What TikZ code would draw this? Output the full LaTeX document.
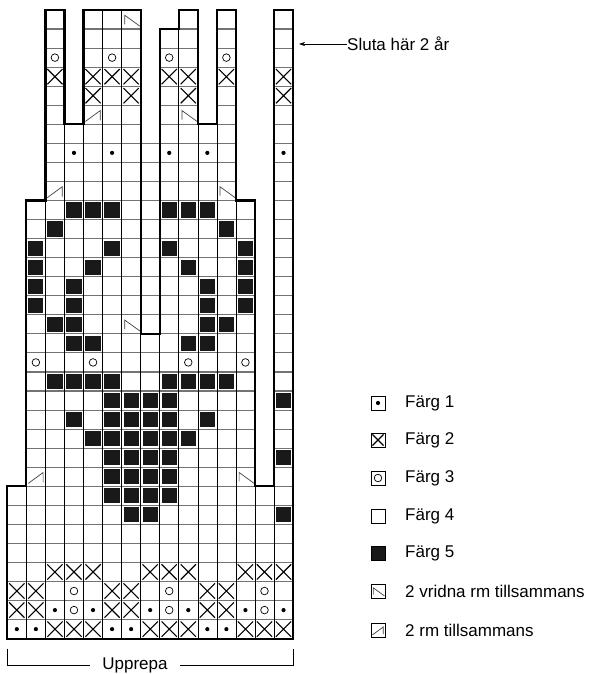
\documentclass[tikz,border=0pt]{standalone}
\usepackage{fontspec}
\setmainfont{Liberation Sans}
\usetikzlibrary{arrows.meta}

\tikzset{
hline/.style={draw=black!55,line width=1.1pt},
vline/.style={draw=black,line width=.6pt},
outline/.style={draw=black,line width=2.2pt,line join=miter},
keybox/.style={draw=black,line width=.8pt},
lbl/.style={font=\fontsize{17}{20}\selectfont,anchor=west,inner sep=0pt}
}

% one symbol in the unit cell whose top left corner is (#1,#2)
\newcommand{\stDot}[2]{\fill (#1+.5,#2+.5) circle (2.1pt);}
\newcommand{\stRing}[2]{\draw[line width=.7pt] (#1+.5,#2+.5) circle (3.8pt);}
\newcommand{\stCross}[2]{\draw[line width=1.1pt] (#1+.1,#2+.1) -- (#1+.9,#2+.9) (#1+.9,#2+.1) -- (#1+.1,#2+.9);}
\newcommand{\stBlack}[2]{\fill[black!90] (#1+.1,#2+.1) rectangle (#1+.9,#2+.9);}
\newcommand{\stTwist}[2]{\draw[line width=.7pt,black!75] (#1+.17,#2+.75) -- (#1+.17,#2+.28) -- (#1+.96,#2+.85);}
\newcommand{\stTog}[2]{\draw[line width=.7pt,black!75] (#1+.88,#2+.8) -- (#1+.88,#2+.28) -- (#1+.1,#2+.85);}

% column / first row of the chart
\def\chartcols{0/25,1/10,2/0,3/6,4/0,5/0,6/0,7/17,8/1,9/0,10/6,11/0,12/10,13/25,14/0}

\begin{document}
\begin{tikzpicture}[x=1pt,y=-1pt]
\useasboundingbox (0,0) rectangle (598,674);

\begin{scope}[shift={(7.3,10)},x=19.05pt,y=-19.05pt]
% grid
\foreach \c/\a in \chartcols
  \foreach \r in {\a,...,32}
    \draw[hline] (\c,\r) -- ++(1,0) (\c,\r+1) -- ++(1,0);
\foreach \r in {7,...,16}
  \draw[hline] (7,\r) -- ++(1,0);
\foreach \c/\a in \chartcols
  \foreach \r in {\a,...,32}
    \draw[vline] (\c,\r) -- ++(0,1) (\c+1,\r) -- ++(0,1);

% colour 5
\foreach \r/\cl in {10/{3,4,5,8,9,10},11/{2,11},12/{1,5,8,12},13/{1,4,9,12},
  14/{1,3,10,12},15/{1,3,10,12},16/{2,3,10,11},17/{3,4,9,10},
  19/{2,3,4,5,8,9,10,11},20/{5,6,7,8,14},21/{3,5,6,7,8,10},22/{4,5,6,7,8,9},
  23/{5,6,7,8,14},24/{5,6,7,8},25/{5,6,7,8},26/{6,7,14}}
  \foreach \c in \cl \stBlack{\c}{\r};

% colour 2
\foreach \r/\cl in {3/{2,4,5,6,8,9,11,14},4/{4,6,9,14},29/{2,3,4,7,8,9,12,13,14},
  30/{0,1,5,6,10,11},31/{0,1,5,6,10,11},32/{2,3,4,7,8,9,12,13,14}}
  \foreach \c in \cl \stCross{\c}{\r};

% colour 1
\foreach \r/\cl in {7/{3,5,8,10,14},31/{2,4,7,9,12,14},32/{0,1,5,6,10,11}}
  \foreach \c in \cl \stDot{\c}{\r};

% colour 3
\foreach \r/\cl in {2/{2,5,8,11},18/{1,4,9,12},30/{3,8,13},31/{3,8,13}}
  \foreach \c in \cl \stRing{\c}{\r};

% decreases
\foreach \c/\r in {6/0,9/5,11/9,6/16,12/24} \stTwist{\c}{\r};
\foreach \c/\r in {4/5,2/9,1/24} \stTog{\c}{\r};

% outline
\draw[outline] (0,33) -- (0,25) -- (1,25) -- (1,10) -- (2,10) -- (2,0) -- (3,0)
  -- (3,6) -- (4,6) -- (4,0) -- (7,0) -- (7,17) -- (8,17) -- (8,1) -- (9,1)
  -- (9,0) -- (10,0) -- (10,6) -- (11,6) -- (11,0) -- (12,0) -- (12,10)
  -- (13,10) -- (13,25) -- (14,25) -- (14,0) -- (15,0) -- (15,33) -- cycle;
\end{scope}

% stop mark
\node[lbl] (stop) at (347,44) {Sluta här 2 år};
\coordinate (stopPt) at (299,44);
\draw[line width=.6pt,-{Stealth[length=6pt,width=4pt]}] (stop.west) -- (stopPt);

% repeat
\coordinate (brL) at (7.3,649);
\coordinate (brR) at (293,649);
\node[font=\fontsize{17}{20}\selectfont,inner xsep=12pt,inner ysep=0pt] (upp) at (135,665) {Upprepa};
\draw[line width=.6pt] (brL) |- (upp.west);
\draw[line width=.6pt] (brR) |- (upp.east);

% key
\foreach \y/\t [count=\i] in {403/Färg 1,440/Färg 2,478/Färg 3,516/Färg 4,553/Färg 5,
  591/2 vridna rm tillsammans,630/2 rm tillsammans}
  \node[lbl] (key\i) at (405,\y) {\t};
\begin{scope}[shift={(371,396)},x=14pt,y=-14pt]
\draw[keybox] (0,0) rectangle (1,1); \stDot{0}{0}
\end{scope}
\begin{scope}[shift={(371,433)},x=14pt,y=-14pt]
\draw[keybox] (0,0) rectangle (1,1); \stCross{0}{0}
\end{scope}
\begin{scope}[shift={(371,471)},x=14pt,y=-14pt]
\draw[keybox] (0,0) rectangle (1,1); \stRing{0}{0}
\end{scope}
\begin{scope}[shift={(371,509)},x=14pt,y=-14pt]
\draw[keybox] (0,0) rectangle (1,1);
\end{scope}
\begin{scope}[shift={(371,546)},x=14pt,y=-14pt]
\draw[keybox,fill=black!90] (0,0) rectangle (1,1);
\end{scope}
\begin{scope}[shift={(371,584)},x=14pt,y=-14pt]
\draw[keybox] (0,0) rectangle (1,1); \stTwist{0}{0}
\end{scope}
\begin{scope}[shift={(371,623)},x=14pt,y=-14pt]
\draw[keybox] (0,0) rectangle (1,1); \stTog{0}{0}
\end{scope}
\end{tikzpicture}
\end{document}
